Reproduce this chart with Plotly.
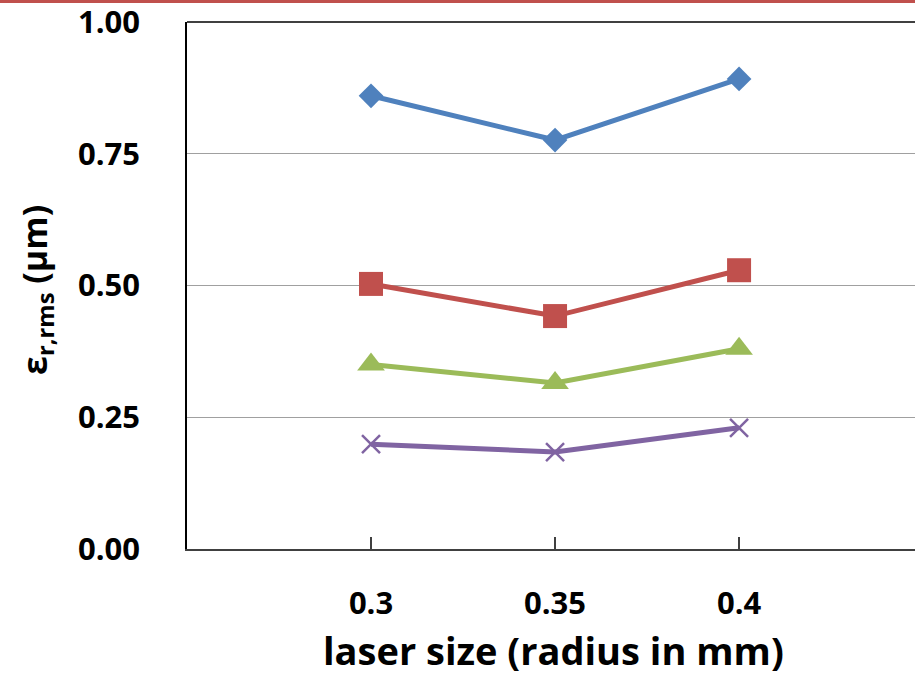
import plotly.graph_objects as go

laser_size = [0.3, 0.35, 0.4]
series_names = ["series 1", "series 2", "series 3", "series 4"]
blue_vals = [0.860, 0.776, 0.892]
red_vals = [0.503, 0.442, 0.529]
green_vals = [0.350, 0.315, 0.380]
purple_vals = [0.199, 0.184, 0.230]
y_ticks = [0.0, 0.25, 0.5, 0.75, 1.0]
y_tick_text = ["0.00", "0.25", "0.50", "0.75", "1.00"]
x_tick_text = ["0.3", "0.35", "0.4"]

FONT = "Open Sans"
fig = go.Figure()

styles = [
    (blue_vals, "#4F81BD", "diamond", 19, 0),
    (red_vals, "#C0504D", "square", 24, 0),
    (green_vals, "#9BBB59", "triangle-up", 24, 0),
    (purple_vals, "#8064A2", "x-thin", 18, 2.5),
]
for name, (vals, col, sym, sz, lw) in zip(series_names, styles):
    fig.add_trace(go.Scatter(
        x=laser_size, y=vals, mode="lines+markers", name=name,
        line=dict(color=col, width=5),
        marker=dict(symbol=sym, size=sz, color=col,
                    line=dict(color=col, width=lw)),
        showlegend=False, hoverinfo="skip",
    ))

PW, PH = 728, 527
fig.update_layout(
    width=915, height=685,
    margin=dict(l=187, r=0, t=22, b=136),
    paper_bgcolor="white", plot_bgcolor="white",
    font=dict(family=FONT, color="black"),
    xaxis=dict(
        range=[0.25, 0.4478],
        tickvals=laser_size, ticktext=x_tick_text,
        ticks="inside", ticklen=12, tickcolor="#404040", tickwidth=1.5,
        showline=True, linecolor="#404040", linewidth=1.5,
        showgrid=False, zeroline=False,
        tickfont=dict(size=31, family=FONT, weight="bold"),
        ticklabelstandoff=26, ticklabeloverflow="allow",
    ),
    yaxis=dict(
        range=[0, 1.0],
        tickvals=y_ticks, ticktext=y_tick_text,
        ticks="", showline=True, linecolor="black", linewidth=1.5,
        showgrid=True, gridcolor="#A0A0A0", gridwidth=1.2,
        zeroline=False,
        tickfont=dict(size=31, family=FONT, weight="bold"),
        ticklabelstandoff=39, ticklabeloverflow="allow",
    ),
    annotations=[
        dict(
            text="ε<sub>r,rms</sub> (μm)",
            textangle=-90, xref="paper", yref="paper",
            x=-(187 - 36) / PW, y=(549 - 290) / PH,
            xanchor="center", yanchor="middle", showarrow=False,
            font=dict(size=34, family=FONT, color="black", weight="bold"),
        ),
        dict(
            text="laser size (radius in mm)",
            xref="paper", yref="paper",
            x=(553 - 187) / PW, y=-(650 - 549) / PH,
            xanchor="center", yanchor="middle", showarrow=False,
            font=dict(size=38, family=FONT, color="black", weight="bold"),
        ),
    ],
    shapes=[
        dict(
            type="line", xref="paper", yref="paper",
            x0=-0.3, x1=1.05, y0=1 + 20.5 / PH, y1=1 + 20.5 / PH,
            line=dict(color="#C0504D", width=3),
        ),
        dict(
            type="line", xref="paper", yref="paper",
            x0=0, x1=1.05, y0=1, y1=1,
            line=dict(color="black", width=1.5),
        ),
    ],
)

fig.write_html("out.html", config={"displayModeBar": False},
               post_script="document.body.style.margin='0';")
